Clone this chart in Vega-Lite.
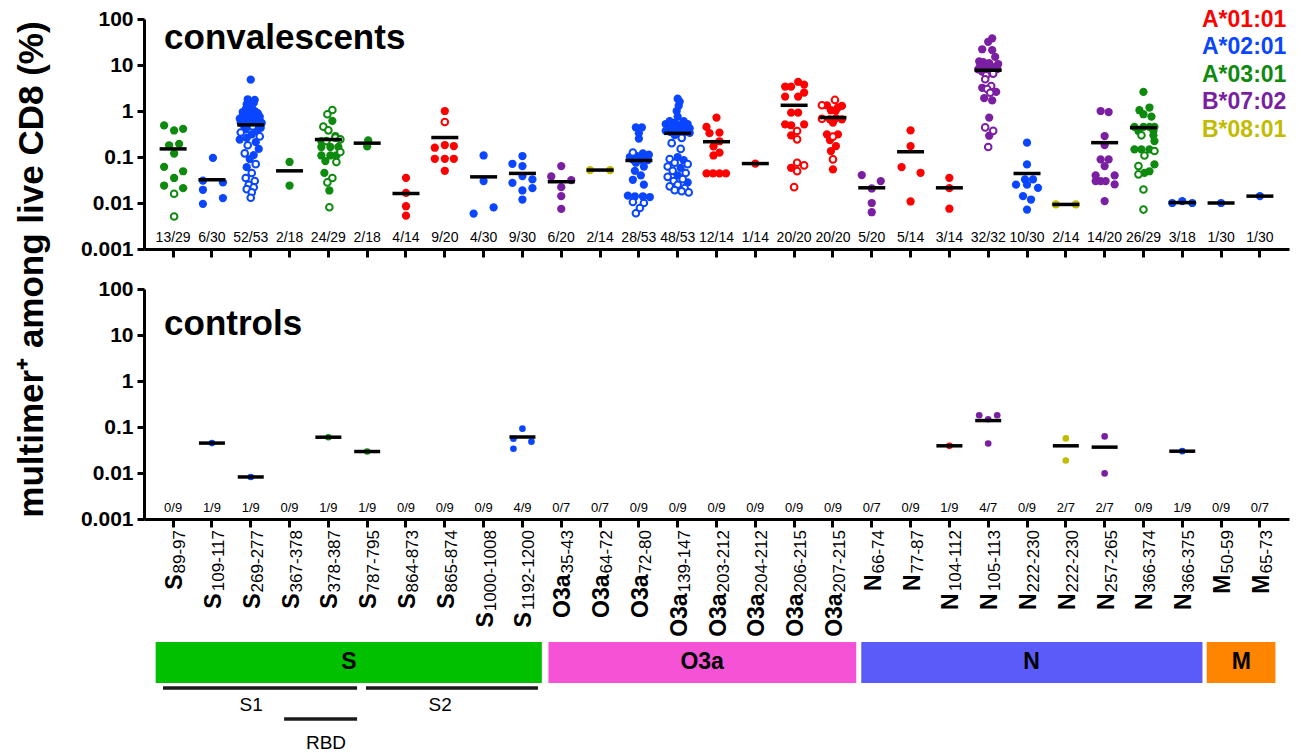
{
"$schema": "https://vega.github.io/schema/vega-lite/v6.json",
"padding": {"left": 13, "top": 8, "right": 5, "bottom": 0},
"background": "white",
"config": {"view": {"stroke": null}, "font": "Liberation Sans", "axis": {"domainColor": "black", "domainWidth": 3, "tickColor": "black", "tickWidth": 3, "grid": false, "labelColor": "black", "titleColor": "black"}},
"datasets": {
"epi": [
{"e":"S89-97","m":"S","s":"89-97","a":"A*03:01","cc":"13/29","hc":"0/9"},
{"e":"S109-117","m":"S","s":"109-117","a":"A*02:01","cc":"6/30","hc":"1/9"},
{"e":"S269-277","m":"S","s":"269-277","a":"A*02:01","cc":"52/53","hc":"1/9"},
{"e":"S367-378","m":"S","s":"367-378","a":"A*03:01","cc":"2/18","hc":"0/9"},
{"e":"S378-387","m":"S","s":"378-387","a":"A*03:01","cc":"24/29","hc":"1/9"},
{"e":"S787-795","m":"S","s":"787-795","a":"A*03:01","cc":"2/18","hc":"1/9"},
{"e":"S864-873","m":"S","s":"864-873","a":"A*01:01","cc":"4/14","hc":"0/9"},
{"e":"S865-874","m":"S","s":"865-874","a":"A*01:01","cc":"9/20","hc":"0/9"},
{"e":"S1000-1008","m":"S","s":"1000-1008","a":"A*02:01","cc":"4/30","hc":"0/9"},
{"e":"S1192-1200","m":"S","s":"1192-1200","a":"A*02:01","cc":"9/30","hc":"4/9"},
{"e":"O3a35-43","m":"O3a","s":"35-43","a":"B*07:02","cc":"6/20","hc":"0/7"},
{"e":"O3a64-72","m":"O3a","s":"64-72","a":"B*08:01","cc":"2/14","hc":"0/7"},
{"e":"O3a72-80","m":"O3a","s":"72-80","a":"A*02:01","cc":"28/53","hc":"0/9"},
{"e":"O3a139-147","m":"O3a","s":"139-147","a":"A*02:01","cc":"48/53","hc":"0/9"},
{"e":"O3a203-212","m":"O3a","s":"203-212","a":"A*01:01","cc":"12/14","hc":"0/9"},
{"e":"O3a204-212","m":"O3a","s":"204-212","a":"A*01:01","cc":"1/14","hc":"0/9"},
{"e":"O3a206-215","m":"O3a","s":"206-215","a":"A*01:01","cc":"20/20","hc":"0/9"},
{"e":"O3a207-215","m":"O3a","s":"207-215","a":"A*01:01","cc":"20/20","hc":"0/9"},
{"e":"N66-74","m":"N","s":"66-74","a":"B*07:02","cc":"5/20","hc":"0/7"},
{"e":"N77-87","m":"N","s":"77-87","a":"A*01:01","cc":"5/14","hc":"0/9"},
{"e":"N104-112","m":"N","s":"104-112","a":"A*01:01","cc":"3/14","hc":"1/9"},
{"e":"N105-113","m":"N","s":"105-113","a":"B*07:02","cc":"32/32","hc":"4/7"},
{"e":"N222-230a","m":"N","s":"222-230","a":"A*02:01","cc":"10/30","hc":"0/9"},
{"e":"N222-230b","m":"N","s":"222-230","a":"B*08:01","cc":"2/14","hc":"2/7"},
{"e":"N257-265","m":"N","s":"257-265","a":"B*07:02","cc":"14/20","hc":"2/7"},
{"e":"N366-374","m":"N","s":"366-374","a":"A*03:01","cc":"26/29","hc":"0/9"},
{"e":"N366-375","m":"N","s":"366-375","a":"A*02:01","cc":"3/18","hc":"1/9"},
{"e":"M50-59","m":"M","s":"50-59","a":"A*02:01","cc":"1/30","hc":"0/9"},
{"e":"M65-73","m":"M","s":"65-73","a":"A*02:01","cc":"1/30","hc":"0/7"}
],
"medc": [
{"e":"S89-97","v":0.15},{"e":"S109-117","v":0.032},{"e":"S269-277","v":0.5},{"e":"S367-378","v":0.05},{"e":"S378-387","v":0.24},{"e":"S787-795","v":0.2},{"e":"S864-873","v":0.016},{"e":"S865-874","v":0.265},{"e":"S1000-1008","v":0.037},{"e":"S1192-1200","v":0.044},
{"e":"O3a35-43","v":0.029},{"e":"O3a64-72","v":0.052},{"e":"O3a72-80","v":0.084},{"e":"O3a139-147","v":0.327},{"e":"O3a203-212","v":0.215},{"e":"O3a204-212","v":0.072},{"e":"O3a206-215","v":1.33},{"e":"O3a207-215","v":0.72},
{"e":"N66-74","v":0.0214},{"e":"N77-87","v":0.13},{"e":"N104-112","v":0.0214},{"e":"N105-113","v":7.7},{"e":"N222-230a","v":0.0438},{"e":"N222-230b","v":0.0093},{"e":"N257-265","v":0.205},{"e":"N366-374","v":0.435},{"e":"N366-375","v":0.0102},{"e":"M50-59","v":0.01},{"e":"M65-73","v":0.0141}
],
"medh": [
{"e":"S109-117","v":0.0447},{"e":"S269-277","v":0.0082},{"e":"S378-387","v":0.06},{"e":"S787-795","v":0.0293},{"e":"S1192-1200","v":0.0606},{"e":"N104-112","v":0.039},{"e":"N105-113","v":0.138},{"e":"N222-230b","v":0.039},{"e":"N257-265","v":0.0365},{"e":"N366-375","v":0.0298}
],
"ctrl": [
{"e":"S109-117","v":0.0447,"j":0},{"e":"S269-277","v":0.0082,"j":0},{"e":"S378-387","v":0.06,"j":0},{"e":"S787-795","v":0.0293,"j":0},
{"e":"S1192-1200","v":0.092,"j":0},{"e":"S1192-1200","v":0.0555,"j":-9},{"e":"S1192-1200","v":0.048,"j":9},{"e":"S1192-1200","v":0.0336,"j":-9},
{"e":"N104-112","v":0.039,"j":0},
{"e":"N105-113","v":0.18,"j":-9},{"e":"N105-113","v":0.147,"j":0},{"e":"N105-113","v":0.18,"j":9},{"e":"N105-113","v":0.0439,"j":0},
{"e":"N222-230b","v":0.0565,"j":0},{"e":"N222-230b","v":0.0187,"j":0},
{"e":"N257-265","v":0.0625,"j":0},{"e":"N257-265","v":0.0098,"j":0},
{"e":"N366-375","v":0.0298,"j":0}
],
"conv": [
{"e":"S89-97","v":0.485,"j":-9},{"e":"S89-97","v":0.41,"j":10},{"e":"S89-97","v":0.377,"j":1},{"e":"S89-97","v":0.18,"j":-4},{"e":"S89-97","v":0.193,"j":6},{"e":"S89-97","v":0.119,"j":1},{"e":"S89-97","v":0.061,"j":-9},{"e":"S89-97","v":0.049,"j":10},{"e":"S89-97","v":0.035,"j":1},{"e":"S89-97","v":0.024,"j":-9},{"e":"S89-97","v":0.021,"j":10},{"e":"S89-97","v":0.0159,"j":1,"o":1},{"e":"S89-97","v":0.0051,"j":1,"o":1},
{"e":"S109-117","v":0.0955,"j":1},{"e":"S109-117","v":0.0306,"j":-9},{"e":"S109-117","v":0.028,"j":11},{"e":"S109-117","v":0.0194,"j":-9},{"e":"S109-117","v":0.0096,"j":-9},{"e":"S109-117","v":0.0128,"j":11},
{"e":"S269-277","v":4.8,"j":0},{"e":"S269-277","v":1.8,"j":-3},{"e":"S269-277","v":1.75,"j":4},{"e":"S269-277","v":1.6,"j":-1},{"e":"S269-277","v":1.5,"j":3},{"e":"S269-277","v":1.4,"j":-4},{"e":"S269-277","v":1.2,"j":1},{"e":"S269-277","v":1.1,"j":-5},{"e":"S269-277","v":1.0,"j":4},{"e":"S269-277","v":0.95,"j":-8},{"e":"S269-277","v":0.9,"j":7},{"e":"S269-277","v":0.85,"j":-2},{"e":"S269-277","v":0.8,"j":3},{"e":"S269-277","v":0.78,"j":-8},{"e":"S269-277","v":0.75,"j":9},{"e":"S269-277","v":0.72,"j":-4},{"e":"S269-277","v":0.7,"j":5},{"e":"S269-277","v":0.68,"j":-11},{"e":"S269-277","v":0.65,"j":1},{"e":"S269-277","v":0.62,"j":9},{"e":"S269-277","v":0.6,"j":-6},{"e":"S269-277","v":0.58,"j":4},{"e":"S269-277","v":0.56,"j":-10},{"e":"S269-277","v":0.55,"j":11},{"e":"S269-277","v":0.53,"j":-2},{"e":"S269-277","v":0.51,"j":6},
{"e":"S269-277","v":0.49,"j":-7},{"e":"S269-277","v":0.46,"j":2,"o":1},{"e":"S269-277","v":0.43,"j":10},{"e":"S269-277","v":0.4,"j":-5},{"e":"S269-277","v":0.37,"j":6},{"e":"S269-277","v":0.34,"j":-10,"o":1},{"e":"S269-277","v":0.31,"j":1},{"e":"S269-277","v":0.28,"j":9,"o":1},{"e":"S269-277","v":0.26,"j":-4},{"e":"S269-277","v":0.24,"j":-11},{"e":"S269-277","v":0.21,"j":5},{"e":"S269-277","v":0.18,"j":-3,"o":1},{"e":"S269-277","v":0.15,"j":8},{"e":"S269-277","v":0.12,"j":-6,"o":1},{"e":"S269-277","v":0.11,"j":3},{"e":"S269-277","v":0.09,"j":-1},{"e":"S269-277","v":0.07,"j":5,"o":1},{"e":"S269-277","v":0.06,"j":-4},{"e":"S269-277","v":0.045,"j":1,"o":1},{"e":"S269-277","v":0.035,"j":-5,"o":1},{"e":"S269-277","v":0.03,"j":4,"o":1},{"e":"S269-277","v":0.025,"j":-2,"o":1},{"e":"S269-277","v":0.022,"j":3,"o":1},{"e":"S269-277","v":0.02,"j":-4,"o":1},{"e":"S269-277","v":0.017,"j":1,"o":1},{"e":"S269-277","v":0.013,"j":0,"o":1},
{"e":"S367-378","v":0.078,"j":0},{"e":"S367-378","v":0.024,"j":0},
{"e":"S378-387","v":1.05,"j":4,"o":1},{"e":"S378-387","v":0.85,"j":-1,"o":1},{"e":"S378-387","v":0.61,"j":4},{"e":"S378-387","v":0.457,"j":-5,"o":1},{"e":"S378-387","v":0.38,"j":0,"o":1},{"e":"S378-387","v":0.286,"j":7},{"e":"S378-387","v":0.222,"j":-7},{"e":"S378-387","v":0.222,"j":-2,"o":1},{"e":"S378-387","v":0.263,"j":7,"o":1},{"e":"S378-387","v":0.242,"j":12,"o":1},{"e":"S378-387","v":0.165,"j":-7},{"e":"S378-387","v":0.165,"j":2},{"e":"S378-387","v":0.165,"j":10},{"e":"S378-387","v":0.128,"j":12,"o":1},{"e":"S378-387","v":0.108,"j":-7},{"e":"S378-387","v":0.108,"j":2},{"e":"S378-387","v":0.108,"j":8},{"e":"S378-387","v":0.0815,"j":-3},{"e":"S378-387","v":0.0776,"j":8,"o":1},{"e":"S378-387","v":0.035,"j":4,"o":1},{"e":"S378-387","v":0.028,"j":-1,"o":1},{"e":"S378-387","v":0.0187,"j":1},{"e":"S378-387","v":0.0081,"j":1,"o":1},{"e":"S378-387","v":0.045,"j":-4},
{"e":"S787-795","v":0.23,"j":1},{"e":"S787-795","v":0.17,"j":0},
{"e":"S864-873","v":0.0353,"j":0},{"e":"S864-873","v":0.0166,"j":0},{"e":"S864-873","v":0.0085,"j":0},{"e":"S864-873","v":0.0053,"j":0},
{"e":"S865-874","v":1.0,"j":0},{"e":"S865-874","v":0.578,"j":0,"o":1},{"e":"S865-874","v":0.159,"j":-10},{"e":"S865-874","v":0.182,"j":0},{"e":"S865-874","v":0.173,"j":9},{"e":"S865-874","v":0.0916,"j":-10},{"e":"S865-874","v":0.0916,"j":0},{"e":"S865-874","v":0.0916,"j":9},{"e":"S865-874","v":0.0502,"j":0},
{"e":"S1000-1008","v":0.108,"j":0},{"e":"S1000-1008","v":0.0299,"j":0},{"e":"S1000-1008","v":0.0059,"j":-10},{"e":"S1000-1008","v":0.008,"j":10},
{"e":"S1192-1200","v":0.105,"j":0},{"e":"S1192-1200","v":0.0713,"j":-10},{"e":"S1192-1200","v":0.0634,"j":0},{"e":"S1192-1200","v":0.0384,"j":0},{"e":"S1192-1200","v":0.0325,"j":10},{"e":"S1192-1200","v":0.0275,"j":-10},{"e":"S1192-1200","v":0.021,"j":10},{"e":"S1192-1200","v":0.0187,"j":0},{"e":"S1192-1200","v":0.0119,"j":0},
{"e":"O3a35-43","v":0.0634,"j":0},{"e":"O3a35-43","v":0.0377,"j":-10},{"e":"O3a35-43","v":0.0314,"j":10},{"e":"O3a35-43","v":0.0221,"j":0},{"e":"O3a35-43","v":0.0141,"j":0},{"e":"O3a35-43","v":0.00745,"j":0},
{"e":"O3a64-72","v":0.052,"j":-10},{"e":"O3a64-72","v":0.052,"j":10},
{"e":"O3a72-80","v":0.44,"j":-3},{"e":"O3a72-80","v":0.44,"j":3},{"e":"O3a72-80","v":0.33,"j":0},{"e":"O3a72-80","v":0.25,"j":0},
{"e":"O3a72-80","v":0.125,"j":-6,"o":1},{"e":"O3a72-80","v":0.12,"j":4},{"e":"O3a72-80","v":0.112,"j":10},{"e":"O3a72-80","v":0.105,"j":-2},{"e":"O3a72-80","v":0.1,"j":-9},{"e":"O3a72-80","v":0.095,"j":6},{"e":"O3a72-80","v":0.09,"j":0},{"e":"O3a72-80","v":0.088,"j":-6},{"e":"O3a72-80","v":0.086,"j":9},{"e":"O3a72-80","v":0.085,"j":2},
{"e":"O3a72-80","v":0.075,"j":-3},{"e":"O3a72-80","v":0.062,"j":5},{"e":"O3a72-80","v":0.05,"j":-4},{"e":"O3a72-80","v":0.04,"j":2},{"e":"O3a72-80","v":0.032,"j":-6},{"e":"O3a72-80","v":0.025,"j":5},{"e":"O3a72-80","v":0.0145,"j":-11},{"e":"O3a72-80","v":0.014,"j":-4},{"e":"O3a72-80","v":0.014,"j":4},{"e":"O3a72-80","v":0.0135,"j":11},{"e":"O3a72-80","v":0.0105,"j":-6,"o":1},{"e":"O3a72-80","v":0.01,"j":5,"o":1},{"e":"O3a72-80","v":0.0078,"j":1,"o":1},{"e":"O3a72-80","v":0.006,"j":-3,"o":1},
{"e":"O3a139-147","v":1.85,"j":0},{"e":"O3a139-147","v":1.6,"j":2},{"e":"O3a139-147","v":1.3,"j":1},{"e":"O3a139-147","v":1.0,"j":-1},{"e":"O3a139-147","v":0.75,"j":0},{"e":"O3a139-147","v":0.6,"j":-8},{"e":"O3a139-147","v":0.6,"j":6},{"e":"O3a139-147","v":0.55,"j":-3},{"e":"O3a139-147","v":0.52,"j":10},{"e":"O3a139-147","v":0.52,"j":-12},{"e":"O3a139-147","v":0.5,"j":3},{"e":"O3a139-147","v":0.48,"j":-7},{"e":"O3a139-147","v":0.46,"j":8},{"e":"O3a139-147","v":0.44,"j":-2},{"e":"O3a139-147","v":0.42,"j":12},{"e":"O3a139-147","v":0.42,"j":-10},{"e":"O3a139-147","v":0.4,"j":4},{"e":"O3a139-147","v":0.38,"j":-5},{"e":"O3a139-147","v":0.38,"j":9},{"e":"O3a139-147","v":0.37,"j":-12},{"e":"O3a139-147","v":0.36,"j":1},{"e":"O3a139-147","v":0.35,"j":-7},{"e":"O3a139-147","v":0.34,"j":6},{"e":"O3a139-147","v":0.335,"j":12},
{"e":"O3a139-147","v":0.3,"j":-3},{"e":"O3a139-147","v":0.26,"j":4,"o":1},{"e":"O3a139-147","v":0.2,"j":-6,"o":1},{"e":"O3a139-147","v":0.15,"j":3,"o":1},{"e":"O3a139-147","v":0.1,"j":0},{"e":"O3a139-147","v":0.09,"j":-8,"o":1},{"e":"O3a139-147","v":0.085,"j":6},{"e":"O3a139-147","v":0.075,"j":-3,"o":1},{"e":"O3a139-147","v":0.07,"j":10,"o":1},{"e":"O3a139-147","v":0.062,"j":-10,"o":1},{"e":"O3a139-147","v":0.058,"j":3},{"e":"O3a139-147","v":0.05,"j":-5,"o":1},{"e":"O3a139-147","v":0.045,"j":8,"o":1},{"e":"O3a139-147","v":0.04,"j":0},{"e":"O3a139-147","v":0.037,"j":-10,"o":1},{"e":"O3a139-147","v":0.033,"j":5,"o":1},{"e":"O3a139-147","v":0.03,"j":-4,"o":1},{"e":"O3a139-147","v":0.028,"j":10},{"e":"O3a139-147","v":0.025,"j":0,"o":1},{"e":"O3a139-147","v":0.023,"j":-8,"o":1},{"e":"O3a139-147","v":0.021,"j":7,"o":1},{"e":"O3a139-147","v":0.019,"j":-3,"o":1},{"e":"O3a139-147","v":0.018,"j":4,"o":1},{"e":"O3a139-147","v":0.017,"j":11,"o":1},
{"e":"O3a203-212","v":0.72,"j":0},{"e":"O3a203-212","v":0.45,"j":-10},{"e":"O3a203-212","v":0.34,"j":3},{"e":"O3a203-212","v":0.33,"j":-7},{"e":"O3a203-212","v":0.22,"j":3},{"e":"O3a203-212","v":0.17,"j":-3},{"e":"O3a203-212","v":0.124,"j":3},{"e":"O3a203-212","v":0.108,"j":-3},{"e":"O3a203-212","v":0.044,"j":-10},{"e":"O3a203-212","v":0.044,"j":-3.5},{"e":"O3a203-212","v":0.044,"j":3},{"e":"O3a203-212","v":0.044,"j":9.5},
{"e":"O3a204-212","v":0.072,"j":0},
{"e":"O3a206-215","v":3.4,"j":-9},{"e":"O3a206-215","v":3.4,"j":-3},{"e":"O3a206-215","v":4.3,"j":4},{"e":"O3a206-215","v":3.76,"j":10},{"e":"O3a206-215","v":2.06,"j":-9},{"e":"O3a206-215","v":2.06,"j":4},{"e":"O3a206-215","v":2.52,"j":10},{"e":"O3a206-215","v":0.92,"j":-3},{"e":"O3a206-215","v":0.92,"j":4},{"e":"O3a206-215","v":0.514,"j":-9},{"e":"O3a206-215","v":0.514,"j":10},{"e":"O3a206-215","v":0.49,"j":-3},{"e":"O3a206-215","v":0.296,"j":-3},{"e":"O3a206-215","v":0.242,"j":3,"o":1},{"e":"O3a206-215","v":0.368,"j":3,"o":1},{"e":"O3a206-215","v":0.0583,"j":-3},{"e":"O3a206-215","v":0.075,"j":3,"o":1},{"e":"O3a206-215","v":0.0656,"j":10,"o":1},{"e":"O3a206-215","v":0.0493,"j":3,"o":1},{"e":"O3a206-215","v":0.0221,"j":0,"o":1},
{"e":"O3a207-215","v":1.74,"j":2,"o":1},{"e":"O3a207-215","v":1.33,"j":-11,"o":1},{"e":"O3a207-215","v":1.33,"j":-6},{"e":"O3a207-215","v":1.29,"j":9},{"e":"O3a207-215","v":1.2,"j":5},{"e":"O3a207-215","v":1.04,"j":-2},{"e":"O3a207-215","v":1.04,"j":3},{"e":"O3a207-215","v":0.68,"j":-11,"o":1},{"e":"O3a207-215","v":0.66,"j":-3},{"e":"O3a207-215","v":0.7,"j":3},{"e":"O3a207-215","v":0.66,"j":9},{"e":"O3a207-215","v":0.56,"j":0},{"e":"O3a207-215","v":0.311,"j":-6},{"e":"O3a207-215","v":0.277,"j":0,"o":1},{"e":"O3a207-215","v":0.311,"j":5},{"e":"O3a207-215","v":0.234,"j":-3},{"e":"O3a207-215","v":0.173,"j":3},{"e":"O3a207-215","v":0.135,"j":-2},{"e":"O3a207-215","v":0.0887,"j":0,"o":1},{"e":"O3a207-215","v":0.0537,"j":0},
{"e":"N66-74","v":0.0404,"j":-10},{"e":"N66-74","v":0.0299,"j":9},{"e":"N66-74","v":0.0207,"j":0},{"e":"N66-74","v":0.01,"j":0},{"e":"N66-74","v":0.0063,"j":0},
{"e":"N77-87","v":0.38,"j":0},{"e":"N77-87","v":0.173,"j":0},{"e":"N77-87","v":0.0604,"j":-9},{"e":"N77-87","v":0.0454,"j":10},{"e":"N77-87","v":0.0108,"j":0},
{"e":"N104-112","v":0.0353,"j":0},{"e":"N104-112","v":0.021,"j":0},{"e":"N104-112","v":0.0075,"j":0},
{"e":"N105-113","v":38,"j":4},{"e":"N105-113","v":32,"j":0},{"e":"N105-113","v":22,"j":-6},{"e":"N105-113","v":21,"j":4},{"e":"N105-113","v":15,"j":7},{"e":"N105-113","v":12,"j":-9},{"e":"N105-113","v":11.5,"j":-5},{"e":"N105-113","v":11,"j":1},{"e":"N105-113","v":10.5,"j":10},{"e":"N105-113","v":10,"j":-1},{"e":"N105-113","v":9.5,"j":-8},{"e":"N105-113","v":9,"j":5},{"e":"N105-113","v":8.5,"j":-3},{"e":"N105-113","v":8.2,"j":9},{"e":"N105-113","v":8,"j":-10},{"e":"N105-113","v":7.8,"j":2},
{"e":"N105-113","v":7.2,"j":-6},{"e":"N105-113","v":6.5,"j":5,"o":1},{"e":"N105-113","v":6,"j":-2,"o":1},{"e":"N105-113","v":4.9,"j":-3,"o":1},{"e":"N105-113","v":3.5,"j":3,"o":1},{"e":"N105-113","v":3.2,"j":-6},{"e":"N105-113","v":3,"j":-1,"o":1},{"e":"N105-113","v":2.6,"j":8},{"e":"N105-113","v":2.5,"j":2,"o":1},{"e":"N105-113","v":1.9,"j":-4},{"e":"N105-113","v":1.7,"j":4},{"e":"N105-113","v":0.72,"j":1},{"e":"N105-113","v":0.44,"j":-3,"o":1},{"e":"N105-113","v":0.37,"j":5,"o":1},{"e":"N105-113","v":0.29,"j":1},{"e":"N105-113","v":0.165,"j":0,"o":1},
{"e":"N222-230a","v":0.205,"j":0},{"e":"N222-230a","v":0.069,"j":0},{"e":"N222-230a","v":0.0325,"j":-2},{"e":"N222-230a","v":0.0325,"j":6},{"e":"N222-230a","v":0.025,"j":-11},{"e":"N222-230a","v":0.025,"j":0},{"e":"N222-230a","v":0.0214,"j":11},{"e":"N222-230a","v":0.0141,"j":-4},{"e":"N222-230a","v":0.0119,"j":4},{"e":"N222-230a","v":0.0072,"j":0},
{"e":"N222-230b","v":0.0093,"j":-10},{"e":"N222-230b","v":0.0093,"j":10},
{"e":"N257-265","v":1.0,"j":-4},{"e":"N257-265","v":0.95,"j":4},{"e":"N257-265","v":0.286,"j":0},{"e":"N257-265","v":0.182,"j":0},{"e":"N257-265","v":0.0887,"j":-4},{"e":"N257-265","v":0.0887,"j":4},{"e":"N257-265","v":0.0634,"j":0},{"e":"N257-265","v":0.0397,"j":-9},{"e":"N257-265","v":0.0397,"j":10},{"e":"N257-265","v":0.0299,"j":-9},{"e":"N257-265","v":0.0299,"j":-4},{"e":"N257-265","v":0.0299,"j":1},{"e":"N257-265","v":0.0253,"j":10},{"e":"N257-265","v":0.011,"j":0},
{"e":"N366-374","v":2.6,"j":0},{"e":"N366-374","v":1.04,"j":-4},{"e":"N366-374","v":1.19,"j":6},{"e":"N366-374","v":0.85,"j":0},{"e":"N366-374","v":0.755,"j":8},{"e":"N366-374","v":0.45,"j":-9},{"e":"N366-374","v":0.45,"j":0},{"e":"N366-374","v":0.45,"j":6},{"e":"N366-374","v":0.45,"j":11},{"e":"N366-374","v":0.368,"j":-5},{"e":"N366-374","v":0.368,"j":10},{"e":"N366-374","v":0.296,"j":-2,"o":1},{"e":"N366-374","v":0.296,"j":10},{"e":"N366-374","v":0.222,"j":11},{"e":"N366-374","v":0.147,"j":-9},{"e":"N366-374","v":0.147,"j":-2},{"e":"N366-374","v":0.147,"j":6},{"e":"N366-374","v":0.108,"j":1,"o":1},{"e":"N366-374","v":0.135,"j":11,"o":1},{"e":"N366-374","v":0.069,"j":11},{"e":"N366-374","v":0.049,"j":6},{"e":"N366-374","v":0.0634,"j":-5,"o":1},{"e":"N366-374","v":0.045,"j":1},{"e":"N366-374","v":0.042,"j":-5,"o":1},{"e":"N366-374","v":0.0197,"j":0,"o":1},{"e":"N366-374","v":0.0072,"j":0,"o":1},
{"e":"N366-375","v":0.01,"j":-10},{"e":"N366-375","v":0.011,"j":0},{"e":"N366-375","v":0.01,"j":10},
{"e":"M50-59","v":0.01,"j":0},
{"e":"M65-73","v":0.0141,"j":0}
],
"bands": [
{"p":"S","x1":-0.45,"x2":9.5,"mid":4.53},
{"p":"O3a","x1":9.67,"x2":17.6,"mid":13.63},
{"p":"N","x1":17.73,"x2":26.52,"mid":22.12},
{"p":"M","x1":26.63,"x2":28.4,"mid":27.52}
],
"segs": [
{"n":"S1","x1":-0.26,"x2":4.74,"y":6.68,"tx":2.01,"ty":7.56},
{"n":"S2","x1":4.97,"x2":9.4,"y":6.68,"tx":6.88,"ty":7.56},
{"n":"RBD","x1":2.86,"x2":4.74,"y":8.29,"tx":3.94,"ty":9.53}
]
},
"spacing": 40,
"bounds": "flush",
"resolve": {"scale": {"x": "independent", "y": "independent", "color": "independent"}, "legend": {"color": "independent"}},
"vconcat": [
{
"width": 1145, "height": 230,
"layer": [
{"data": {"name": "conv"}, "transform": [{"lookup": "e", "from": {"data": {"name": "epi"}, "key": "e", "fields": ["a"]}}, {"filter": "datum.o != 1"}],
 "mark": {"type": "circle", "size": 68, "opacity": 1},
 "encoding": {
  "x": {"field": "e", "type": "nominal", "scale": {"domain": ["S89-97","S109-117","S269-277","S367-378","S378-387","S787-795","S864-873","S865-874","S1000-1008","S1192-1200","O3a35-43","O3a64-72","O3a72-80","O3a139-147","O3a203-212","O3a204-212","O3a206-215","O3a207-215","N66-74","N77-87","N104-112","N105-113","N222-230a","N222-230b","N257-265","N366-374","N366-375","M50-59","M65-73"], "paddingInner": 0, "paddingOuter": 0.25}, "axis": {"labels": false, "title": null, "tickSize": 8}},
  "y": {"field": "v", "type": "quantitative", "scale": {"type": "log", "domain": [0.001, 100]}, "axis": {"values": [0.001, 0.01, 0.1, 1, 10, 100], "format": "~g", "labelFontSize": 21, "labelFontWeight": "bold", "tickSize": 7, "labelPadding": 4, "title": "multimer⁺ among live  CD8 (%)", "titleFontSize": 35, "titleFontWeight": "bold", "titleX": -113, "titleY": 250, "titleAngle": 270, "titleAlign": "center", "titleBaseline": "middle"}},
  "xOffset": {"field": "j", "type": "quantitative", "scale": {"domain": [-19.4, 19.4], "nice": false, "zero": false}},
  "color": {"field": "a", "type": "nominal", "scale": {"domain": ["A*01:01","A*02:01","A*03:01","B*07:02","B*08:01"], "range": ["#FF0000","#0A45FF","#0E8A0E","#7B1FA2","#C2BC00"]},
   "legend": {"orient": "none", "legendX": 1035, "legendY": -11, "title": null, "symbolSize": 0, "symbolOpacity": 0, "symbolStrokeWidth": 0, "labelOffset": 0, "labelFontSize": 23, "labelFontWeight": "bold", "rowPadding": 3.5, "padding": 0,
    "encode": {"labels": {"update": {"fill": {"signal": "datum.value === 'A*01:01' ? '#FF0000' : datum.value === 'A*02:01' ? '#0A45FF' : datum.value === 'A*03:01' ? '#0E8A0E' : datum.value === 'B*07:02' ? '#7B1FA2' : '#C2BC00'"}}}}}}}},
{"data": {"name": "conv"}, "transform": [{"lookup": "e", "from": {"data": {"name": "epi"}, "key": "e", "fields": ["a"]}}, {"filter": "datum.o == 1"}],
 "mark": {"type": "point", "shape": "circle", "filled": false, "fill": "white", "strokeWidth": 2, "size": 44, "opacity": 1},
 "encoding": {
  "x": {"field": "e", "type": "nominal"},
  "y": {"field": "v", "type": "quantitative"},
  "xOffset": {"field": "j", "type": "quantitative", "scale": {"domain": [-19.4, 19.4], "nice": false, "zero": false}},
  "color": {"field": "a", "type": "nominal"}}},
{"data": {"name": "medc"}, "mark": {"type": "tick", "size": 27, "thickness": 3.5, "color": "black", "opacity": 1},
 "encoding": {"x": {"field": "e", "type": "nominal"}, "y": {"field": "v", "type": "quantitative"}}},
{"data": {"name": "epi"}, "mark": {"type": "text", "fontSize": 14, "baseline": "middle"},
 "encoding": {"x": {"field": "e", "type": "nominal"}, "y": {"datum": 0.0017, "type": "quantitative"}, "text": {"field": "cc"}}},
{"data": {"values": [{"t": "convalescents"}]}, "mark": {"type": "text", "align": "left", "baseline": "alphabetic", "dx": -9, "fontSize": 35, "fontWeight": "bold"},
 "encoding": {"x": {"datum": "S89-97", "type": "nominal"}, "y": {"datum": 22, "type": "quantitative"}, "text": {"field": "t"}}}
]
},
{
"width": 1145, "height": 230,
"layer": [
{"data": {"name": "ctrl"}, "transform": [{"lookup": "e", "from": {"data": {"name": "epi"}, "key": "e", "fields": ["a"]}}],
 "mark": {"type": "circle", "size": 44, "opacity": 1},
 "encoding": {
  "x": {"field": "e", "type": "nominal", "scale": {"domain": ["S89-97","S109-117","S269-277","S367-378","S378-387","S787-795","S864-873","S865-874","S1000-1008","S1192-1200","O3a35-43","O3a64-72","O3a72-80","O3a139-147","O3a203-212","O3a204-212","O3a206-215","O3a207-215","N66-74","N77-87","N104-112","N105-113","N222-230a","N222-230b","N257-265","N366-374","N366-375","M50-59","M65-73"], "paddingInner": 0, "paddingOuter": 0.25}, "axis": {"labels": false, "title": null, "tickSize": 8}},
  "y": {"field": "v", "type": "quantitative", "scale": {"type": "log", "domain": [0.001, 100]}, "axis": {"values": [0.001, 0.01, 0.1, 1, 10, 100], "format": "~g", "labelFontSize": 21, "labelFontWeight": "bold", "tickSize": 7, "labelPadding": 4, "title": null}},
  "xOffset": {"field": "j", "type": "quantitative", "scale": {"domain": [-19.4, 19.4], "nice": false, "zero": false}},
  "color": {"field": "a", "type": "nominal", "scale": {"domain": ["A*01:01","A*02:01","A*03:01","B*07:02","B*08:01"], "range": ["#FF0000","#0A45FF","#0E8A0E","#7B1FA2","#C2BC00"]}, "legend": null}}},
{"data": {"name": "medh"}, "mark": {"type": "tick", "size": 26, "thickness": 3.5, "color": "black", "opacity": 1},
 "encoding": {"x": {"field": "e", "type": "nominal"}, "y": {"field": "v", "type": "quantitative"}}},
{"data": {"name": "epi"}, "mark": {"type": "text", "fontSize": 13, "baseline": "middle"},
 "encoding": {"x": {"field": "e", "type": "nominal"}, "y": {"datum": 0.0017, "type": "quantitative"}, "text": {"field": "hc"}}},
{"data": {"values": [{"t": "controls"}]}, "mark": {"type": "text", "align": "left", "baseline": "alphabetic", "dx": -9, "fontSize": 35, "fontWeight": "bold"},
 "encoding": {"x": {"datum": "S89-97", "type": "nominal"}, "y": {"datum": 10, "type": "quantitative"}, "text": {"field": "t"}}},
{"data": {"name": "epi"}, "mark": {"type": "text", "angle": 270, "align": "right", "baseline": "alphabetic", "fontSize": 17, "dy": 12, "dx": -11},
 "encoding": {"x": {"field": "e", "type": "nominal"}, "y": {"datum": 0.001, "type": "quantitative"}, "text": {"field": "s"}}},
{"data": {"name": "epi"}, "mark": {"type": "text", "angle": 270, "align": "right", "baseline": "alphabetic", "fontSize": 23, "fontWeight": "bold", "dy": 9, "dx": {"expr": "-(12 + 9.45*(length(datum.s)-1) + 5.66)"}},
 "encoding": {"x": {"field": "e", "type": "nominal"}, "y": {"datum": 0.001, "type": "quantitative"}, "text": {"field": "m"}}}
]
},
{
"width": 1145, "height": 193,
"layer": [
{"data": {"name": "bands"}, "mark": {"type": "rect"},
 "encoding": {"x": {"field": "x1", "type": "quantitative", "scale": {"domain": [-0.75, 28.75], "nice": false, "zero": false}, "axis": null}, "x2": {"field": "x2"},
  "y": {"datum": 4.3, "type": "quantitative", "scale": {"domain": [0, 10], "reverse": true, "nice": false}, "axis": null}, "y2": {"datum": 6.42},
  "color": {"field": "p", "type": "nominal", "scale": {"domain": ["S","O3a","N","M"], "range": ["#00C000","#F652D6","#5B5BFA","#FF8400"]}, "legend": null}}},
{"data": {"name": "bands"}, "mark": {"type": "text", "fontSize": 23, "fontWeight": "bold", "baseline": "middle"},
 "encoding": {"x": {"field": "mid", "type": "quantitative"}, "y": {"datum": 5.36, "type": "quantitative"}, "text": {"field": "p"}}},
{"data": {"name": "segs"}, "mark": {"type": "rule", "strokeWidth": 3.5, "color": "#1a1a1a"},
 "encoding": {"x": {"field": "x1", "type": "quantitative"}, "x2": {"field": "x2"}, "y": {"field": "y", "type": "quantitative"}}},
{"data": {"name": "segs"}, "mark": {"type": "text", "fontSize": 19, "baseline": "middle"},
 "encoding": {"x": {"field": "tx", "type": "quantitative"}, "y": {"field": "ty", "type": "quantitative"}, "text": {"field": "n"}}}
]
}
]
}
